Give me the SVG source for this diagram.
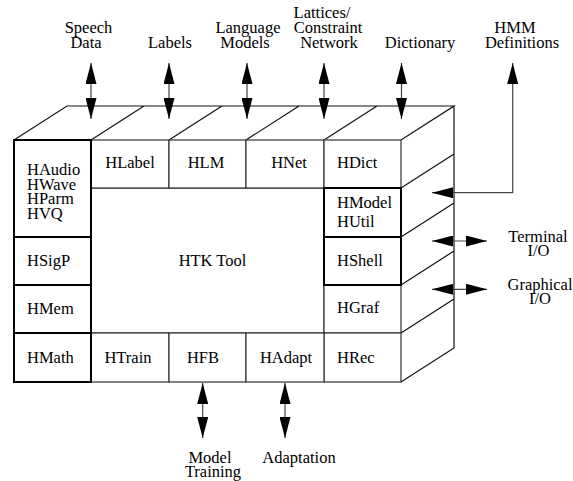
<svg xmlns="http://www.w3.org/2000/svg" width="573" height="481" viewBox="0 0 573 481">
<style>
text{font-family:"Liberation Serif","Times New Roman",serif;font-size:16.5px;fill:#000}
.m{text-anchor:middle}
.thin{fill:#fff;stroke:#333;stroke-width:1.2}
.thick{fill:none;stroke:#000;stroke-width:2}
.face{fill:none;stroke:#111;stroke-width:1.2;stroke-linejoin:miter}
.arr{fill:none;stroke:#444;stroke-width:1.2;marker-start:url(#ah);marker-end:url(#ah)}
</style>
<defs>
<marker id="ah" viewBox="0 0 21 11" refX="21" refY="5.5" markerWidth="21" markerHeight="11" markerUnits="userSpaceOnUse" orient="auto-start-reverse">
<path d="M0,0 L21,5.5 L0,11 z" fill="#000"/>
</marker>
</defs>
<rect width="573" height="481" fill="#fff"/>
<g id="box3d">
<path class="face" d="M14,140 L67,106 L454,106 L401,140 M91,140 L144,106 M169,140 L222,106 M246,140 L299,106 M324,140 L377,106 M454,106 L454,348 L401,382 M401,188 L454,154 M401,237 L454,203 M401,285 L454,251 M401,333 L454,299"/>
</g>
<g id="HTKTool"><rect class="thin" x="91" y="188" width="233" height="145"/><text class="m" x="212.5" y="266">HTK Tool</text></g>
<g id="HLabel"><rect class="thin" x="91" y="140" width="78" height="48"/><text class="m" x="130" y="168">HLabel</text></g>
<g id="HLM"><rect class="thin" x="169" y="140" width="77" height="48"/><text class="m" x="206" y="168">HLM</text></g>
<g id="HNet"><rect class="thin" x="246" y="140" width="78" height="48"/><text class="m" x="289" y="168">HNet</text></g>
<g id="HDict"><rect class="thin" x="324" y="140" width="77" height="48"/><text x="337" y="168">HDict</text></g>
<g id="HGraf"><rect class="thin" x="324" y="285" width="77" height="48"/><text x="337" y="313">HGraf</text></g>
<g id="HRec"><rect class="thin" x="324" y="333" width="77" height="49"/><text x="337" y="363">HRec</text></g>
<g id="HTrain"><rect class="thin" x="91" y="333" width="78" height="49"/><text class="m" x="128" y="363">HTrain</text></g>
<g id="HFB"><rect class="thin" x="169" y="333" width="77" height="49"/><text class="m" x="203" y="363">HFB</text></g>
<g id="HAdapt"><rect class="thin" x="246" y="333" width="78" height="49"/><text class="m" x="286" y="363">HAdapt</text></g>
<g id="HAudio"><rect class="thick" x="14" y="140" width="77" height="97"/><text x="27" y="175">HAudio</text><text x="27" y="189.5">HWave</text><text x="27" y="204">HParm</text><text x="27" y="218.5">HVQ</text></g>
<g id="HSigP"><rect class="thick" x="14" y="237" width="77" height="48"/><text x="27" y="266">HSigP</text></g>
<g id="HMem"><rect class="thick" x="14" y="285" width="77" height="48"/><text x="27" y="314">HMem</text></g>
<g id="HMath"><rect class="thick" x="14" y="333" width="77" height="49"/><text x="27" y="363">HMath</text></g>
<g id="HModel"><rect class="thick" x="324" y="188" width="77" height="49"/><text x="337" y="207.5">HModel</text><text x="337" y="226.5">HUtil</text></g>
<g id="HShell"><rect class="thick" x="324" y="237" width="77" height="48"/><text x="337" y="266">HShell</text></g>
<g id="labels">
<text class="m" x="88.5" y="32.5">Speech</text><text class="m" x="86" y="47.5">Data</text>
<text class="m" x="170" y="47.5">Labels</text>
<text class="m" x="248" y="32.5">Language</text><text class="m" x="245" y="47.5">Models</text>
<text class="m" x="322" y="18">Lattices/</text><text class="m" x="328" y="33">Constraint</text><text class="m" x="329" y="48">Network</text>
<text class="m" x="420" y="47.5">Dictionary</text>
<text class="m" x="515" y="32.5">HMM</text><text class="m" x="522" y="47.5">Definitions</text>
<text class="m" x="538" y="242">Terminal</text><text class="m" x="538.5" y="256">I/O</text>
<text class="m" x="540" y="290">Graphical</text><text class="m" x="540" y="304">I/O</text>
<text class="m" x="210" y="463">Model</text><text class="m" x="213" y="477">Training</text>
<text class="m" x="299" y="463">Adaptation</text>
</g>
<g id="connectors">
<line class="arr" x1="91" y1="63" x2="91" y2="119"/>
<line class="arr" x1="169" y1="63" x2="169" y2="119"/>
<line class="arr" x1="247" y1="63" x2="247" y2="119"/>
<line class="arr" x1="324" y1="63" x2="324" y2="119"/>
<line class="arr" x1="401.5" y1="63" x2="401.5" y2="119"/>
<path class="arr" d="M432,192.7 L512.7,192.7 L512.7,63"/>
<line class="arr" x1="432" y1="241" x2="487" y2="241"/>
<line class="arr" x1="432" y1="289.3" x2="487" y2="289.3"/>
<line class="arr" x1="202.7" y1="383" x2="202.7" y2="438"/>
<line class="arr" x1="285" y1="383" x2="285" y2="438"/>
</g>
</svg>
